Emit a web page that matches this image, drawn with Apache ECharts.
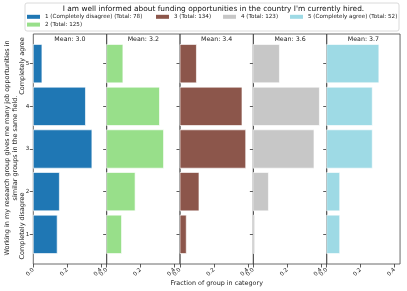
<!DOCTYPE html>
<html>
<head>
<meta charset="utf-8">
<script src="https://cdn.jsdelivr.net/npm/echarts@6/dist/echarts.min.js"></script>
<style>html,body{margin:0;padding:0;background:#fff}#c{width:407px;height:291px}</style>
</head>
<body>
<div id="c"></div>
<script>
const categories = [1, 2, 3, 4, 5];
const groupNames = ['1 (Completely disagree) (Total: 78)', '2 (Total: 125)', '3 (Total: 134)', '4 (Total: 123)', '5 (Completely agree) (Total: 52)'];
const group1 = [0.141, 0.154, 0.346, 0.308, 0.051];
const group2 = [0.088, 0.168, 0.336, 0.312, 0.096];
const group3 = [0.037, 0.112, 0.388, 0.366, 0.097];
const group4 = [0.008, 0.089, 0.358, 0.390, 0.154];
const group5 = [0.077, 0.077, 0.269, 0.269, 0.308];
const means = ['3.0', '3.2', '3.4', '3.6', '3.7'];
const xTicks = [0, 0.2, 0.4];
const titleText = "I am well informed about funding opportunities in the country I'm currently hired.";
const yLabel1 = 'Working in my research group gives me many job opportunities in';
const yLabel2 = 'similar groups in the same field.';
const yLow = 'Completely disagree';
const yHigh = 'Completely agree';
const xLabel = 'Fraction of group in category';

const groups = [group1, group2, group3, group4, group5];
const colors = ['#1f77b4', '#98df8a', '#8c564b', '#c7c7c7', '#9edae5'];
const FONT = 'DejaVu Sans';
const panelLeft = 33.3, panelW = 73.35, panelTop = 34, panelH = 230;

const grids = [], xAxes = [], yAxes = [], series = [], graphics = [];
groups.forEach((g, i) => {
  const left = panelLeft + i * panelW;
  grids.push({left: left, top: panelTop, width: panelW, height: panelH, show: true, borderColor: '#444', borderWidth: 0.8, containLabel: false});
  xAxes.push({
    gridIndex: i, type: 'value', min: 0, max: 0.433,
    axisLine: {show: false}, splitLine: {show: false},
    axisTick: {show: true, length: 3.5, lineStyle: {color: '#333', width: 0.8}, customValues: xTicks},
    axisLabel: {show: true, rotate: 45, fontSize: 5.6, fontFamily: FONT, color: '#222', margin: 5,
      customValues: xTicks, formatter: v => v.toFixed(1)}
  });
  yAxes.push({
    gridIndex: i, type: 'value', min: 0.305, max: 5.695,
    axisLine: {show: false}, splitLine: {show: false},
    axisTick: {show: true, length: 3.5, lineStyle: {color: '#333', width: 0.8}, customValues: categories},
    axisLabel: {show: i === 0, fontSize: 5.6, fontFamily: FONT, color: '#222', margin: 4,
      customValues: categories, formatter: v => String(v)}
  });
  series.push({
    type: 'custom', name: groupNames[i], xAxisIndex: i, yAxisIndex: i,
    itemStyle: {color: colors[i]},
    data: g.map((v, k) => [v, categories[k]]),
    renderItem: function (params, api) {
      const v = api.value(0), c = api.value(1);
      const p0 = api.coord([0, c]);
      const p1 = api.coord([v, c]);
      const h = api.size([0, 0.9])[1];
      return {type: 'rect', shape: {x: p0[0], y: p0[1] - h / 2, width: p1[0] - p0[0], height: h},
        style: {fill: colors[i], stroke: 'rgba(255,255,255,0.65)', lineWidth: 1}};
    }
  });
  graphics.push({type: 'text', x: left + panelW / 2, y: 39.5,
    style: {text: 'Mean: ' + means[i], font: '6.3px "DejaVu Sans"', fill: '#222', textAlign: 'center', textVerticalAlign: 'middle'}});
});

graphics.push({type: 'rect', shape: {x: 25, y: 3, width: 374, height: 28, r: 2}, style: {fill: 'rgba(255,255,255,0.8)', stroke: '#d0d0d0', lineWidth: 0.8}, z: -1});
graphics.push({type: 'text', x: 213.5, y: 8.6, style: {text: titleText, font: '7.4px "DejaVu Sans"', fill: '#111', textAlign: 'center', textVerticalAlign: 'middle'}});
graphics.push({type: 'text', x: 216.7, y: 283, style: {text: xLabel, font: '6.4px "DejaVu Sans"', fill: '#222', textAlign: 'center', textVerticalAlign: 'middle'}});
[[yLabel1, 7.5, 148], [yLabel2, 15, 148], [yLow, 22.5, 226], [yHigh, 22.5, 66]].forEach(t => {
  graphics.push({type: 'text', x: t[1], y: t[2], rotation: Math.PI / 2,
    style: {text: t[0], font: '6.5px "DejaVu Sans"', fill: '#222', textAlign: 'center', textVerticalAlign: 'middle'}});
});

const legendPos = [[27, 13.8, [0, 1]], [156, 13.8, [2]], [223, 13.8, [3]], [290, 13.8, [4]]];
const legends = legendPos.map(p => ({
  left: p[0], top: p[1], orient: 'vertical', padding: 0, itemGap: 1.8,
  itemWidth: 13, itemHeight: 4, icon: 'rect', selectedMode: false,
  itemStyle: {borderWidth: 0},
  textStyle: {fontSize: 5.6, fontFamily: FONT, color: '#222', padding: [0, 0, 0, 0]},
  data: p[2].map(k => groupNames[k])
}));

const chart = echarts.init(document.getElementById('c'), null, {renderer: 'canvas'});
chart.setOption({
  animation: false,
  backgroundColor: '#fff',
  grid: grids, xAxis: xAxes, yAxis: yAxes, series: series,
  legend: legends, graphic: graphics
});
</script>
</body>
</html>
